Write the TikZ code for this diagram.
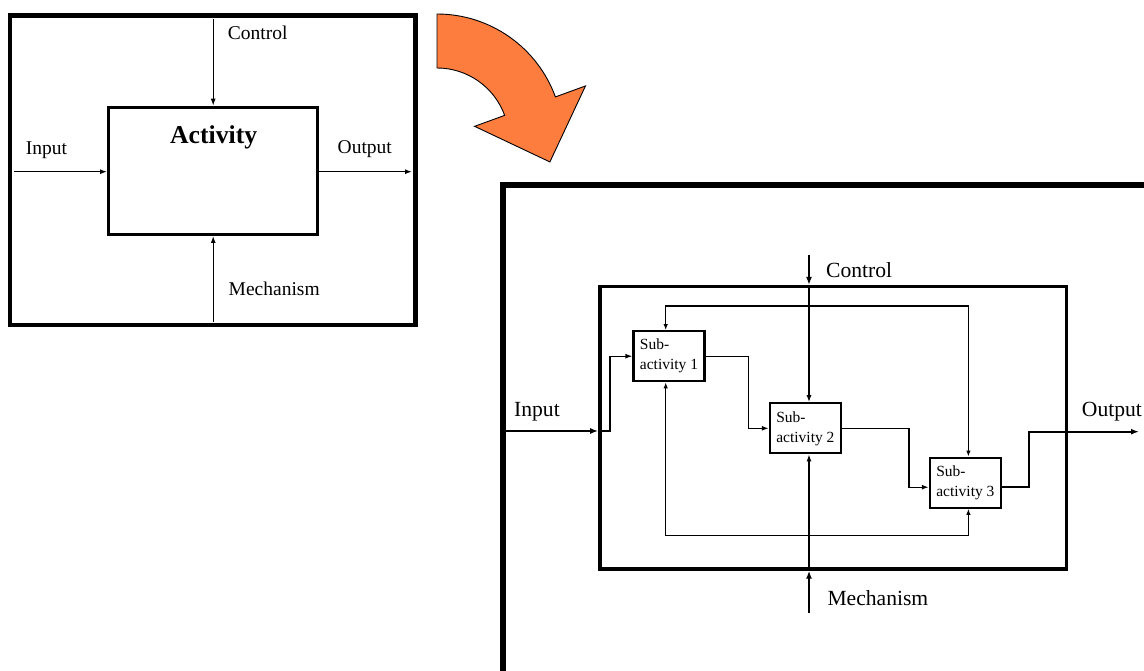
\documentclass[tikz,border=0pt]{standalone}
\usepackage{fontspec}
\setmainfont{Liberation Serif}
\usetikzlibrary{arrows.meta}
\definecolor{bendorange}{RGB}{252,125,62}

\begin{document}
\begin{tikzpicture}[
    x=1pt, y=-1pt,
    panel/.style={rectangle, draw=black, line width=#1, inner sep=0pt},
    actbox/.style={rectangle, draw=black, line width=3.2pt, inner sep=0pt, minimum width=209pt, minimum height=127pt},
    subbox/.style={rectangle, draw=black, line width=2.2pt, inner sep=0pt, minimum width=71pt, minimum height=50pt, align=left, font=\fontsize{15.5}{20}\selectfont},
    arrow/.style={-{Latex[length=7pt, width=5pt]}, line width=1.3pt},
    mainarrow/.style={-{Latex[length=8pt, width=6pt]}, line width=1.8pt},
    feedback/.style={{Latex[length=6pt, width=4.5pt]}-{Latex[length=6pt, width=4.5pt]}, line width=1.2pt},
    lbl/.style={anchor=base west, inner sep=0pt, font=\fontsize{19.5}{22}\selectfont},
    rlbl/.style={anchor=base west, inner sep=0pt, font=\fontsize{21.6}{24}\selectfont},
    bendarrow/.style={draw=black, line width=0.9pt, fill=bendorange, line join=miter}
]
\useasboundingbox (0,0) rectangle (1144,671);
\clip (0,0) rectangle (1144,671);

% Left panel: single activity
\node[panel=4.5pt, minimum width=405.6pt, minimum height=309.7pt] (leftpanel) at (212.8,170.2) {};
\node[actbox] (act) at (213.2,170.8) {};
\node[anchor=base, inner sep=0pt, font=\fontsize{25.7}{28}\selectfont\bfseries] (acttitle) at (213.7,143.3) {Activity};

\coordinate (ctlL)  at (213.2,19);
\coordinate (inL)   at (14,171.7);
\coordinate (outL)  at (412,171.7);
\coordinate (mechL) at (213.2,322);

\node[lbl] (ctlLlbl)  at (227.7,39.3) {Control};
\node[lbl] (inLlbl)   at (25.6,155)   {Input};
\node[lbl] (outLlbl)  at (337.5,153.3) {Output};
\node[lbl] (mechLlbl) at (228.5,295)  {Mechanism};

\draw[arrow] (ctlL) -- (act.north);
\draw[arrow] (inL) -- (inL -| act.west);
\draw[arrow] (act.east |- outL) -- (outL);
\draw[arrow] (mechL) -- (act.south);

% Bent orange arrow
\begin{scope}[shift={(437,140)}, x=1pt, y=1pt]
  \draw[bendarrow] (90:126) arc[start angle=90, end angle=20, radius=126]
    -- (20:158) -- (-11:115) -- (20:40) -- (20:72)
    arc[start angle=20, end angle=90, radius=72] -- cycle;
\end{scope}

% Right panel: decomposition
\node[panel=6pt, minimum width=643.7pt, minimum height=495pt] (rightpanel) at (825.2,432.5) {};
\node[panel=3.5pt, minimum width=466.7pt, minimum height=282.3pt] (inner) at (833.3,427.8) {};

\node[subbox] (sub1) at (669,356.2)   {Sub-\\activity 1};
\node[subbox] (sub2) at (805.4,428.3) {Sub-\\activity 2};
\node[subbox] (sub3) at (965.4,482.7) {Sub-\\activity 3};

\coordinate (ctlR)  at (809,255);
\coordinate (mechR) at (809,613);
\coordinate (inR)   at (506,431);
\coordinate (outR)  at (1139,431.7);
\coordinate (fbtop) at (810,306);
\coordinate (fbbot) at (810,535.5);

\node[rlbl] (ctlRlbl)  at (826,277.3) {Control};
\node[rlbl] (inRlbl)   at (514,416.7) {Input};
\node[rlbl] (outRlbl)  at (1081.7,416.7) {Output};
\node[rlbl] (mechRlbl) at (827.3,605) {Mechanism};

% Boundary arrows
\draw[mainarrow] (ctlR) -- (ctlR |- inner.north);
\draw[arrow] (ctlR |- inner.north) -- (ctlR |- sub2.north);
\draw[mainarrow] (mechR) -- (mechR |- inner.south);
\draw[arrow] (mechR |- inner.south) -- (mechR |- sub2.south);
\draw[mainarrow] (inR) -- (inR -| inner.west);
\draw[arrow] (inR -| inner.west) -- ++(11.7,0) |- (sub1.west);
\draw[mainarrow] ([yshift=-4.5pt]sub3.east) -- ++(27,0) |- (outR);

% Flow between sub-activities
\draw[arrow] (sub1.east) -- ++(43,0) |- (sub2.west);
\draw[arrow] (sub2.east) -- ++(67,0) |- ([yshift=-4.5pt]sub3.west);

% Feedback loops
\draw[feedback] ([xshift=-3.3pt]sub1.north) |- (fbtop) -| ([xshift=3pt]sub3.north);
\draw[feedback] ([xshift=-3.3pt]sub1.south) |- (fbbot) -| ([xshift=3pt]sub3.south);

\end{tikzpicture}
\end{document}
